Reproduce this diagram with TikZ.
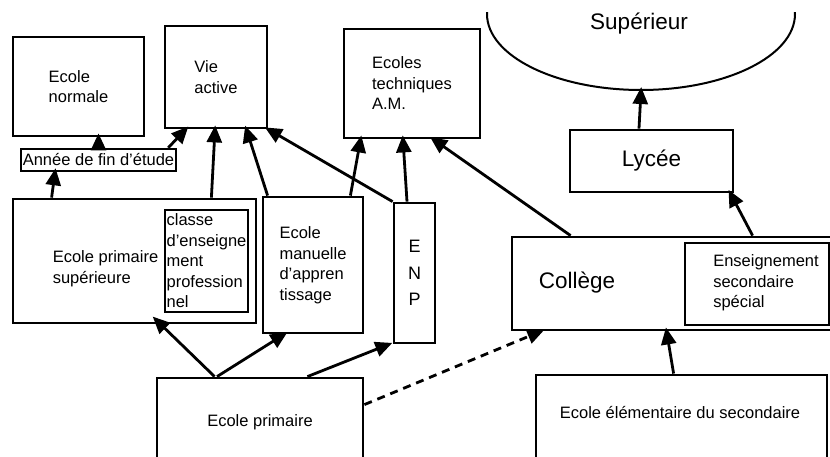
\documentclass[tikz,border=0pt]{standalone}
\usepackage{fontspec}
\setmainfont{Liberation Sans}
\usepackage{tikz}
\usetikzlibrary{arrows.meta,shapes.geometric}
\newcommand{\txtsmall}{\fontsize{16.5}{20.5}\selectfont}
\newcommand{\txtbig}{\fontsize{22.5}{26}\selectfont}
\newcommand{\txtenp}{\fontsize{18}{26.5}\selectfont}
\tikzstyle{block} = [draw, rectangle, line width=2.8pt, inner sep=0pt, align=left, font=\txtsmall]
\tikzstyle{caption} = [inner sep=0pt, align=left, font=\txtsmall]
\tikzstyle{dome} = [draw, ellipse, line width=2pt, inner sep=0pt]

\begin{document}
\begin{tikzpicture}[x=1pt, y=-1pt, line width=2.8pt, >={Triangle[length=17pt,width=15pt]}, shorten >=-4pt]
            \useasboundingbox (0,0) rectangle (830,457);
            \clip (0,0) rectangle (830,457);
            \node [block, minimum width=131, minimum height=99] (normale) at (78.5,86.5) {Ecole\\normale};
            \node [block, minimum width=102, minimum height=102] (vie) at (216,77) {Vie\\active};
            \node [block, minimum width=136, minimum height=109] (tech) at (412,83.5) {Ecoles\\techniques\\A.M.};
            \node [block, line width=2.5pt, minimum width=155, minimum height=22] (annee) at (98.5,160) {Ann\'ee de fin d'\'etude};
            \begin{scope}
                \clip (0,13) rectangle (830,457);
                \node [dome, minimum width=308, minimum height=152] (sup) at (641,14) {};
            \end{scope}
            \node [caption, font=\txtbig] (suptxt) at (639,24) {Sup\'erieur};
            \node [block, minimum width=163, minimum height=62, font=\txtbig] (lyc) at (651.5,161) {Lyc\'ee};
            \node [block, minimum width=340, minimum height=93] (col) at (682,283.5) {};
            \node [caption, font=\txtbig] (coltxt) at (577,283) {Coll\`ege};
            \node [block, minimum width=144, minimum height=82] (ess) at (757,284) {};
            \node [caption] (esstxt) at (766,283) {Enseignement\\secondaire\\sp\'ecial};
            \node [block, minimum width=291, minimum height=105] (elem) at (681.5,427.5) {};
            \node [caption] (elemtxt) at (680,413) {Ecole \'el\'ementaire du secondaire};
            \node [block, minimum width=206, minimum height=88] (prim) at (260,422) {Ecole primaire};
            \node [block, minimum width=243, minimum height=124] (eps) at (134.5,261) {};
            \node [caption] (epstxt) at (105.5,268.5) {Ecole primaire\\sup\'erieure};
            \node [block, minimum width=83, minimum height=102] (cep) at (206.5,261) {classe\\d'enseigne\\ment\\profession\\nel};
            \node [block, minimum width=100, minimum height=136] (man) at (313,265) {Ecole\\manuelle\\d'appren\\tissage};
            \node [block, minimum width=41, minimum height=140, align=center, font=\txtenp] (enp) at (414.5,273) {E\\N\\P};

            \draw [->] ([xshift=40]eps.north west) -- ([xshift=-43.5]annee.south);
            \draw [->] (annee.north) -- (annee.north |- normale.south);
            \draw [->] ([xshift=-9]annee.north east) -- ([xshift=22]vie.south west);
            \draw [->] ([xshift=-46]eps.north east) -- ([xshift=-1]vie.south);
            \draw [->] ([xshift=6]man.north west) -- ([xshift=-22]vie.south east);
            \draw [->] (enp.north west) -- (vie.south east);
            \draw [->] ([xshift=-14]man.north east) -- ([xshift=18]tech.south west);
            \draw [->] ([xshift=-7.5]enp.north) -- ([xshift=-9]tech.south);
            \draw [->] ([xshift=60]col.north west) -- ([xshift=-48]tech.south east);
            \draw [->] ([xshift=242]col.north west) -- ([xshift=-4]lyc.south east);
            \draw [->] ([xshift=-12.5]lyc.north) -- (sup.south);
            \draw [->] ([xshift=139]elem.north west) -- ([xshift=156]col.south west);
            \draw [->] ([xshift=59]prim.north west) -- ([xshift=144,yshift=5]eps.south west);
            \draw [->] ([xshift=-43]prim.north) -- ([xshift=-29]man.south);
            \draw [->] ([xshift=-57]prim.north east) -- ([xshift=-4]enp.south west);
            \draw [->, dash pattern=on 8pt off 6pt] ([yshift=-28]prim.north east) -- ([xshift=30]col.south west);
\end{tikzpicture}
\end{document}
